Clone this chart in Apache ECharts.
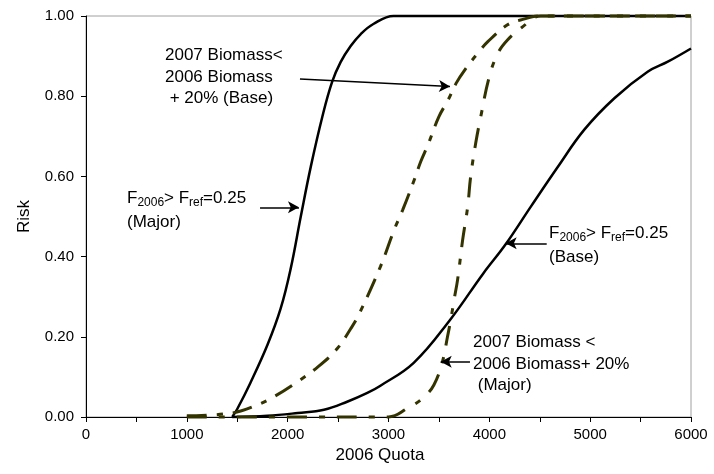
<!DOCTYPE html>
<html>
<head>
<meta charset="utf-8">
<script src="https://cdn.jsdelivr.net/npm/echarts@6/dist/echarts.min.js"></script>
<style>
  html, body { margin: 0; padding: 0; background: #fff; }
  #chart { width: 714px; height: 474px; }
</style>
</head>
<body>
<div id="chart"></div>
<script>
// risk curves: quota -> probability
const majorFQuota = [1450, 1500, 1630, 1800, 1930, 2030, 2130, 2230, 2345, 2440, 2525, 2625, 2725, 2850, 3050, 3500, 4000, 5000, 6000];
const majorFRisk  = [0, 0.02, 0.085, 0.18, 0.27, 0.37, 0.5, 0.625, 0.75, 0.835, 0.885, 0.925, 0.955, 0.98, 1, 1, 1, 1, 1];

const baseFQuota = [1450, 1800, 2100, 2360, 2590, 2790, 2920, 3250, 3610, 3940, 4160, 4410, 4680, 4940, 5240, 5570, 5770, 6000];
const baseFRisk  = [0, 0.003, 0.01, 0.018, 0.038, 0.06, 0.078, 0.135, 0.242, 0.358, 0.43, 0.524, 0.624, 0.716, 0.795, 0.861, 0.886, 0.919];

const baseBioQuota = [1000, 1450, 1700, 1860, 2080, 2300, 2490, 2625, 2705, 2920, 3055, 3140, 3255, 3320, 3390, 3500, 3590, 3670, 3770, 3885, 3985, 4180, 4310, 4510, 5000, 6000];
const baseBioRisk  = [0.003, 0.01, 0.03, 0.05, 0.085, 0.125, 0.17, 0.22, 0.255, 0.375, 0.466, 0.516, 0.591, 0.637, 0.678, 0.749, 0.79, 0.832, 0.87, 0.907, 0.936, 0.978, 0.99, 1, 1, 1];

const majorBioQuota = [1000, 2000, 3000, 3190, 3340, 3450, 3535, 3585, 3620, 3650, 3685, 3735, 3785, 3815, 3865, 3915, 4000, 4085, 4180, 4315, 4510, 5000, 6000];
const majorBioRisk  = [0, 0, 0, 0.022, 0.047, 0.08, 0.138, 0.2, 0.246, 0.292, 0.342, 0.441, 0.524, 0.6, 0.683, 0.749, 0.849, 0.907, 0.94, 0.97, 1, 1, 1];

// annotation arrows, [from, to] in data units
const arrows = [
  [[2122, 0.843], [3610, 0.824]],
  [[1726, 0.523], [2112, 0.523]],
  [[4569, 0.433], [4162, 0.433]],
  [[3808, 0.138], [3518, 0.138]],
];

const FONT = '"Liberation Sans", Arial, sans-serif';
const OLIVE = '#333300';

const pairs = (xs, ys) => xs.map((x, i) => [x, ys[i]]);

const curve = (name, xs, ys, color, dash, width) => ({
  name,
  type: 'line',
  data: pairs(xs, ys),
  smooth: 0.4,
  showSymbol: false,
  clip: false,
  lineStyle: { color, width: width || 2.5, type: dash || 'solid', cap: 'butt' },
});

const textStyle = { fontFamily: FONT, fontSize: 17, fill: '#000' };
const subRich = {
  n: { fontFamily: FONT, fontSize: 17, fill: '#000' },
  s: { fontFamily: FONT, fontSize: 12, fill: '#000', padding: [8, 0, 0, 0] },
};

const chart = echarts.init(document.getElementById('chart'), null, { renderer: 'canvas' });

chart.setOption({
  animation: false,
  backgroundColor: '#fff',
  grid: {
    left: 86, right: 23, top: 16, bottom: 57,
    show: true, borderColor: '#a0a0a0', borderWidth: 1, backgroundColor: 'transparent',
  },
  xAxis: {
    type: 'value', min: 0, max: 6000, interval: 500,
    name: '2006 Quota', nameLocation: 'middle', nameGap: 28,
    nameTextStyle: { fontFamily: FONT, fontSize: 17, color: '#000', padding: [0, 17, 0, 0] },
    axisLine: { lineStyle: { color: '#000', width: 1 } },
    axisTick: { length: 5, lineStyle: { color: '#000' } },
    axisLabel: {
      fontFamily: FONT, fontSize: 15, color: '#000', margin: 10,
      formatter: (v) => (v % 1000 === 0 ? String(v) : ''),
    },
    splitLine: { show: false },
  },
  yAxis: {
    type: 'value', min: 0, max: 1, interval: 0.2,
    name: 'Risk', nameLocation: 'middle', nameGap: 53,
    nameTextStyle: { fontFamily: FONT, fontSize: 17, color: '#000' },
    axisLine: { show: true, lineStyle: { color: '#000', width: 1 } },
    axisTick: { show: true, length: 5, lineStyle: { color: '#000' } },
    axisLabel: { fontFamily: FONT, fontSize: 15, color: '#000', margin: 12, formatter: (v) => v.toFixed(2) },
    splitLine: { show: false },
  },
  series: [
    Object.assign(curve('F2006>Fref=0.25 (Major)', majorFQuota, majorFRisk, '#000'), {
      markLine: {
        silent: true,
        symbol: ['none', 'arrow'],
        symbolSize: [9, 11],
        label: { show: false },
        lineStyle: { color: '#000', width: 1.5, type: 'solid' },
        data: arrows.map(([a, b]) => [{ coord: a }, { coord: b }]),
      },
    }),
    curve('F2006>Fref=0.25 (Base)', baseFQuota, baseFRisk, '#000'),
    curve('2007 Biomass<2006 Biomass+20% (Base)', baseBioQuota, baseBioRisk, OLIVE, [20, 10, 6, 10], 3),
    curve('2007 Biomass<2006 Biomass+20% (Major)', majorBioQuota, majorBioRisk, OLIVE, [20, 12, 6, 12], 3),
  ],
  graphic: [
    { type: 'text', left: 165, top: 45, style: Object.assign({ text: '2007 Biomass<\n2006 Biomass\n + 20% (Base)', lineHeight: 21.5 }, textStyle) },
    { type: 'text', left: 127, top: 190, style: { text: '{n|F}{s|2006}{n|> F}{s|ref}{n|=0.25}', rich: subRich } },
    { type: 'text', left: 127, top: 214, style: Object.assign({ text: '(Major)' }, textStyle) },
    { type: 'text', left: 549, top: 225, style: { text: '{n|F}{s|2006}{n|> F}{s|ref}{n|=0.25}', rich: subRich } },
    { type: 'text', left: 549, top: 249, style: Object.assign({ text: '(Base)' }, textStyle) },
    { type: 'text', left: 473, top: 332, style: Object.assign({ text: '2007 Biomass <\n2006 Biomass+ 20%\n (Major)', lineHeight: 21.5 }, textStyle) },
  ],
});
</script>
</body>
</html>
